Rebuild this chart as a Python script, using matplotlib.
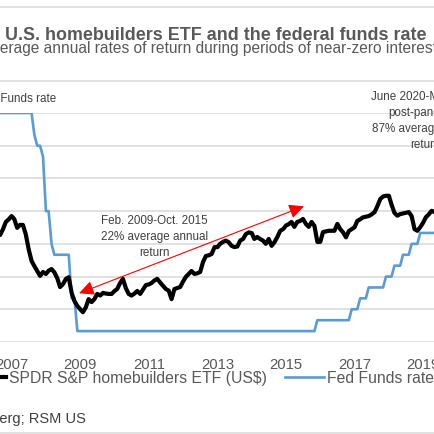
import matplotlib
matplotlib.use("Agg")
import matplotlib.pyplot as plt
from matplotlib.lines import Line2D
import pandas as pd
import numpy as np

plt.rcParams['font.family'] = ['Liberation Sans', 'DejaVu Sans']

# ---------------- data ----------------
title = "U.S. homebuilders ETF and the federal funds rate"
subtitle = "Average annual rates of return during periods of near-zero interest rates"
source = "Source: Bloomberg; RSM US"
left_axis_title = "Fed Funds rate"
etf_label = "SPDR S&P homebuilders ETF (US$)"
fed_label = "Fed Funds rate"

# SPDR S&P homebuilders ETF, monthly (first value = Oct 2006)
etf_start = "2006-10-01"
etf_values = [
    32.7, 34.5, 36.7,                                                   # 2006 Oct-Dec
    37.5, 38.5, 37.6, 34.9, 35.8, 35.8, 33.0, 28.4, 24.8, 23.2, 21.7, 20.2,  # 2007
    21.4, 20.8, 21.8, 22.3, 21.3, 19.5, 16.8, 17.7, 19.3, 19.8, 15.0, 12.5,  # 2008
    11.0, 10.0, 9.1, 10.6, 13.1, 12.2, 13.1, 14.7, 14.2, 15.0, 14.8, 14.7,   # 2009
    14.7, 15.6, 16.2, 18.0, 19.3, 16.5, 14.7, 14.2, 14.8, 15.6, 14.7, 16.0,  # 2010
    17.4, 17.6, 18.0, 18.8, 19.3, 18.2, 17.2, 16.2, 15.7, 13.1, 16.2, 16.5,  # 2011
    16.8, 18.5, 19.9, 20.8, 21.7, 20.8, 21.0, 21.4, 24.5, 26.3, 26.5, 26.9,  # 2012
    29.0, 29.0, 30.0, 30.6, 31.0, 30.5, 29.4, 29.0, 29.2, 31.0, 31.5, 33.0,  # 2013
    33.5, 33.3, 31.5, 32.1, 31.5, 31.0, 30.0, 31.5, 29.4, 30.5, 32.1, 34.0,  # 2014
    34.5, 35.6, 36.0, 36.7, 35.2, 36.7, 37.0, 37.6, 36.1, 35.2, 36.7, 35.5,  # 2015
    30.6, 30.6, 33.6, 33.8, 34.0, 34.0, 34.0, 36.1, 34.5, 33.5, 32.0, 33.9,  # 2016
    34.5, 35.1, 37.0, 37.5, 38.1, 38.3, 38.5, 39.0, 39.7, 41.5, 43.7, 44.5,  # 2017
    44.7, 44.7, 42.0, 39.5, 38.6, 39.1, 39.3, 39.5, 39.7, 38.5, 34.5, 34.0,  # 2018
    35.1, 36.5, 38.1, 39.0, 40.1, 39.7, 41.0,                                # 2019
]

# Fed funds target (upper bound), value in force at the start of each month
fed_change_months = ["2006-10", "2007-10", "2007-11", "2008-01", "2008-02", "2008-04",
                     "2008-05", "2008-11", "2009-01", "2016-01", "2017-01", "2017-04",
                     "2017-07", "2018-01", "2018-04", "2018-07", "2018-10", "2019-01",
                     "2019-08"]
fed_change_rates = [5.25, 4.75, 4.5, 4.25, 3.0, 2.25,
                    2.0, 1.0, 0.25, 0.5, 0.75, 1.0,
                    1.25, 1.5, 1.75, 2.0, 2.25, 2.5,
                    2.25]

year_ticks = [2007, 2009, 2011, 2013, 2015, 2017, 2019]

ann1_text = "Feb. 2009-Oct. 2015\n22% average annual\nreturn"
ann2_text = "June 2020-May 2021\npost-pandemic\n87% average annual\nreturn"

# ---------------- layout ----------------
W = H = 435
DPI = 100
PX = DPI / 72.0
def fx(px): return px / W
def fy(py): return 1 - py / H

X_MIN = pd.Timestamp("2006-09-30")
X_MAX = pd.Timestamp("2019-06-07")

fig = plt.figure(figsize=(W / DPI, H / DPI), dpi=DPI)
fig.patch.set_facecolor("white")

ax = fig.add_axes([0, fy(343), 1, (343 - 114) / H])
ax2 = ax.twinx()

etf_dates = pd.date_range(etf_start, periods=len(etf_values), freq="MS")
fed = pd.Series(fed_change_rates, index=pd.to_datetime(fed_change_months))
fed_monthly = fed.resample("MS").ffill()

blue = "#5B9BD5"
ax.plot(fed_monthly.index, fed_monthly.values, color=blue, lw=1.9,
        solid_joinstyle="round", zorder=3)
ax2.plot(etf_dates, etf_values, color="black", lw=3.0,
         solid_joinstyle="round", solid_capstyle="round", zorder=4)

ax.set_xlim(X_MIN, X_MAX)
ax.set_ylim(0, 5.25)
ax2.set_ylim(0, 70)
ax.set_yticks(np.arange(0, 5.26, 0.75))
ax.grid(axis="y", color="#D9D9D9", lw=1.1)
ax.set_axisbelow(True)
ax.tick_params(axis="y", left=False, labelleft=False)
ax2.tick_params(axis="y", right=False, labelright=False)
for a in (ax, ax2):
    for s in a.spines.values():
        s.set_visible(False)

ax.set_xticks([pd.Timestamp(f"{y}-02-01") for y in year_ticks])
ax.set_xticklabels([str(y) for y in year_ticks])
ax.tick_params(axis="x", length=0, pad=11, labelsize=10.7, labelcolor="#595959")

# red double-headed arrow
arrow_start = (pd.Timestamp("2009-01-19"), 14.9)
arrow_end = (pd.Timestamp("2015-08-11"), 41.5)
ax2.annotate("", xy=arrow_start, xytext=arrow_end,
             arrowprops=dict(arrowstyle="<|-|>,head_length=0.45,head_width=0.22",
                             color="red", lw=0.8, shrinkA=0, shrinkB=0,
                             mutation_scale=20))
ax2.text(pd.Timestamp("2011-04-03"), 32.5, ann1_text, ha="center", va="center",
         fontsize=8.4, color="#404040", linespacing=1.45)
ax2.text(pd.Timestamp("2019-03-03"), 67.9, ann2_text, ha="center", va="center",
         fontsize=8.4, color="#404040", linespacing=1.45)

# titles and other text
fig.text(fx(216), fy(39.5), title, ha="center", va="baseline", fontsize=12.85,
         fontweight="bold", color="#595959")
sub_pt = 11.2
sub_offset = 1.167 * sub_pt * PX
fig.text(fx(-sub_offset + 0.5), fy(53.5), subtitle, ha="left", va="baseline",
         fontsize=sub_pt, color="#595959")
lat_pt = 8.4
lat_offset = 2.001 * lat_pt * PX
fig.text(fx(-lat_offset + 0.5), fy(102), left_axis_title, ha="left", va="baseline",
         fontsize=lat_pt, color="#404040")
fig.text(fx(86), fy(423), source, ha="right", va="baseline", fontsize=10.5,
         color="#404040")

# separator lines
for py in (8, 82, 434):
    fig.add_artist(Line2D([0, 1], [fy(py), fy(py)], color="#D9D9D9", lw=1.1,
                          transform=fig.transFigure))

# legend
handles = [Line2D([], [], color="black", lw=3.0),
           Line2D([], [], color=blue, lw=1.9)]
fig.legend(handles, [etf_label, fed_label], loc="center left",
           bbox_to_anchor=(fx(-33.3), fy(379)), ncol=2, frameon=False,
           fontsize=11.3, handlelength=2.5, handletextpad=0.2,
           columnspacing=1.15, borderpad=0, borderaxespad=0,
           labelcolor="#595959")

fig.savefig("out.png", dpi=DPI, facecolor="white")
